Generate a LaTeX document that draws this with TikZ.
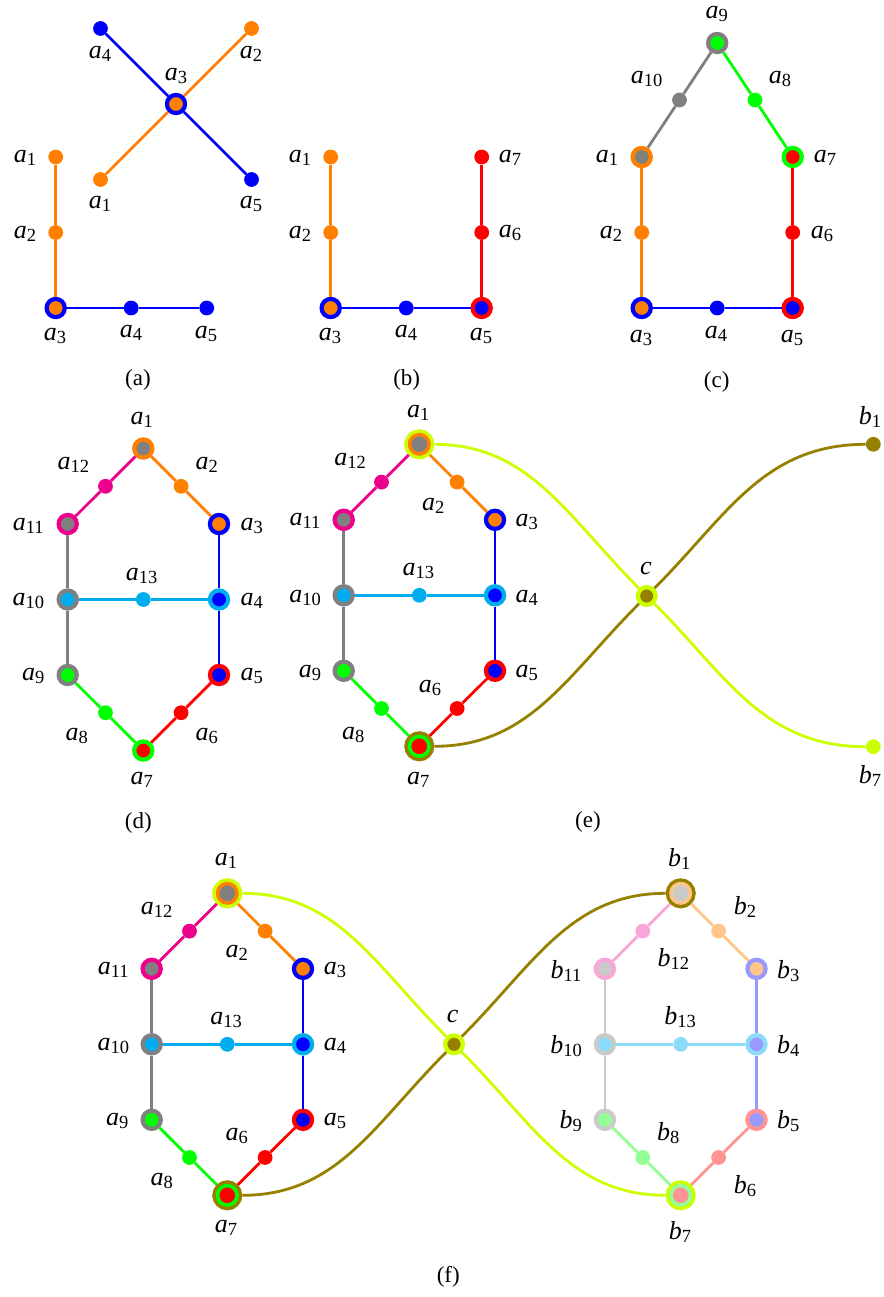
\documentclass[tikz,border=0pt]{standalone}
\usepackage{fontspec}
\setmainfont{Liberation Serif}
\definecolor{cOr}{RGB}{255,128,0}
\definecolor{cBl}{RGB}{0,0,255}
\definecolor{cRd}{RGB}{255,0,0}
\definecolor{cGn}{RGB}{0,255,0}
\definecolor{cGy}{RGB}{128,128,128}
\definecolor{cMg}{RGB}{236,0,140}
\definecolor{cCy}{RGB}{0,174,239}
\definecolor{cLm}{RGB}{204,255,0}
\definecolor{cOl}{RGB}{150,128,0}
\colorlet{pOr}{cOr!45!white}
\colorlet{pBl}{cBl!40!white}
\colorlet{pRd}{cRd!42!white}
\colorlet{pGn}{cGn!42!white}
\colorlet{pGy}{cGy!42!white}
\colorlet{pMg}{cMg!35!white}
\colorlet{pCy}{cCy!45!white}
\newcommand\lb[2]{\textit{#1}\raisebox{-3pt}{\fontsize{18.5}{19}\selectfont #2}}
\tikzset{
  dot/.style={circle,inner sep=0pt,minimum size=14.8pt,fill=#1},
  rng/.style 2 args={circle,inner sep=0pt,minimum size=18.2pt,line width=4.2pt,draw=#1,fill=#2},
  tri/.style n args={3}{circle,inner sep=0pt,minimum size=19.5pt,line width=3.5pt,draw=#2,fill=#3,preaction={draw=#1,line width=10.5pt},outer sep=5.25pt},
  cnode/.style 2 args={circle,inner sep=0pt,minimum size=17.7pt,line width=4.3pt,draw=#1,fill=#2},
  ed/.style={line width=2.8pt,draw=#1},
  lab/.style={inner sep=0pt,anchor=base,yshift=-5.8pt,font=\fontsize{26}{28}\selectfont},
  blab/.style={inner sep=0pt,anchor=base,yshift=-8pt,font=\fontsize{26}{28}\selectfont},
  capt/.style={inner sep=0pt,font=\fontsize{23}{26}\selectfont}
}
\begin{document}
\begin{tikzpicture}[x=1pt,y=-1pt]
\useasboundingbox (0,0) rectangle (883,1297);
% ---------------- (a) cross
\node[dot=cBl] (xa4) at (100.5,28.5) {};
\node[dot=cOr] (xa2) at (251.5,28.5) {};
\node[rng={cBl}{cOr}] (xa3) at (176,104) {};
\node[dot=cOr] (xa1) at (100.5,179.5) {};
\node[dot=cBl] (xa5) at (251.5,179.5) {};
\draw[ed=cBl] (xa4) -- (xa3) -- (xa5);
\draw[ed=cOr] (xa1) -- (xa3) -- (xa2);
\node[lab] (lxa4) at (100,53) {\lb{a}{4}};
\node[lab] (lxa2) at (251,53) {\lb{a}{2}};
\node[lab] (lxa3) at (176,75) {\lb{a}{3}};
\node[lab] (lxa1) at (100,203) {\lb{a}{1}};
\node[lab] (lxa5) at (251,203) {\lb{a}{5}};
% (a) L
\node[dot=cOr] (la1) at (55.7,157) {};
\node[dot=cOr] (la2) at (55.7,232.5) {};
\node[rng={cBl}{cOr}] (la3) at (55.7,308) {};
\node[dot=cBl] (la4) at (131.2,308) {};
\node[dot=cBl] (la5) at (206.7,308) {};
\draw[ed=cOr] (la1) -- (la2) -- (la3);
\draw[ed=cBl] (la3) -- (la4) -- (la5);
\node[lab] (lla1) at (25,157) {\lb{a}{1}};
\node[lab] (lla2) at (25,233) {\lb{a}{2}};
\node[lab] (lla3) at (55,335) {\lb{a}{3}};
\node[lab] (lla4) at (131,332) {\lb{a}{4}};
\node[lab] (lla5) at (206,333) {\lb{a}{5}};
\node[capt] (capa) at (138,380) {(a)};
% ---------------- (b)
\node[dot=cOr] (ba1) at (330.7,157) {};
\node[dot=cOr] (ba2) at (330.7,232.5) {};
\node[rng={cBl}{cOr}] (ba3) at (330.7,308) {};
\node[dot=cBl] (ba4) at (406.2,308) {};
\node[rng={cRd}{cBl}] (ba5) at (481.7,308) {};
\node[dot=cRd] (ba6) at (481.7,232.5) {};
\node[dot=cRd] (ba7) at (481.7,157) {};
\draw[ed=cOr] (ba1) -- (ba2) -- (ba3);
\draw[ed=cBl] (ba3) -- (ba4) -- (ba5);
\draw[ed=cRd] (ba5) -- (ba6) -- (ba7);
\node[lab] (lba1) at (300,157) {\lb{a}{1}};
\node[lab] (lba2) at (300,233) {\lb{a}{2}};
\node[lab] (lba3) at (330,335) {\lb{a}{3}};
\node[lab] (lba4) at (406,332) {\lb{a}{4}};
\node[lab] (lba5) at (481,335) {\lb{a}{5}};
\node[lab] (lba6) at (510,232) {\lb{a}{6}};
\node[lab] (lba7) at (510,157) {\lb{a}{7}};
\node[capt] (capb) at (406.7,380) {(b)};
% ---------------- (c)
\node[rng={cOr}{cGy}] (ca1) at (641.7,157) {};
\node[dot=cOr] (ca2) at (641.7,232.5) {};
\node[rng={cBl}{cOr}] (ca3) at (641.7,308) {};
\node[dot=cBl] (ca4) at (717.2,308) {};
\node[rng={cRd}{cBl}] (ca5) at (792.7,308) {};
\node[dot=cRd] (ca6) at (792.7,232.5) {};
\node[rng={cGn}{cRd}] (ca7) at (792.7,157) {};
\node[dot=cGn] (ca8) at (755,100) {};
\node[rng={cGy}{cGn}] (ca9) at (717.2,43) {};
\node[dot=cGy] (ca10) at (679.5,100) {};
\draw[ed=cOr] (ca1) -- (ca2) -- (ca3);
\draw[ed=cBl] (ca3) -- (ca4) -- (ca5);
\draw[ed=cRd] (ca5) -- (ca6) -- (ca7);
\draw[ed=cGn] (ca7) -- (ca8) -- (ca9);
\draw[ed=cGy] (ca9) -- (ca10) -- (ca1);
\node[lab] (lca9) at (716.7,13) {\lb{a}{9}};
\node[lab] (lca10) at (646.7,78) {\lb{a}{10}};
\node[lab] (lca8) at (780,78) {\lb{a}{8}};
\node[lab] (lca1) at (607,157) {\lb{a}{1}};
\node[lab] (lca7) at (825,157) {\lb{a}{7}};
\node[lab] (lca2) at (611,233) {\lb{a}{2}};
\node[lab] (lca6) at (822,233) {\lb{a}{6}};
\node[lab] (lca3) at (641,337) {\lb{a}{3}};
\node[lab] (lca4) at (716,333) {\lb{a}{4}};
\node[lab] (lca5) at (792,337) {\lb{a}{5}};
\node[capt] (capc) at (716.7,381.7) {(c)};
% ---------------- (d)
\node[rng={cOr}{cGy}] (da1) at (143.3,448.5) {};
\node[dot=cOr] (da2) at (181.1,486.3) {};
\node[rng={cBl}{cOr}] (da3) at (219,524) {};
\node[rng={cCy}{cBl}] (da4) at (219,599.5) {};
\node[rng={cRd}{cBl}] (da5) at (219,675) {};
\node[dot=cRd] (da6) at (181.1,712.7) {};
\node[rng={cGn}{cRd}] (da7) at (143.3,750.5) {};
\node[dot=cGn] (da8) at (105.5,712.7) {};
\node[rng={cGy}{cGn}] (da9) at (67.7,675) {};
\node[rng={cGy}{cCy}] (da10) at (67.7,599.5) {};
\node[rng={cMg}{cGy}] (da11) at (67.7,524) {};
\node[dot=cMg] (da12) at (105.5,486.3) {};
\node[dot=cCy] (da13) at (143.3,599.5) {};
\draw[ed=cOr] (da1) -- (da2) -- (da3);
\draw[ed=cBl] (da3) -- (da4) -- (da5);
\draw[ed=cRd] (da5) -- (da6) -- (da7);
\draw[ed=cGn] (da7) -- (da8) -- (da9);
\draw[ed=cGy] (da9) -- (da10) -- (da11);
\draw[ed=cMg] (da11) -- (da12) -- (da1);
\draw[ed=cCy] (da10) -- (da13) -- (da4);
\node[lab] (lda1) at (141.7,418.3) {\lb{a}{1}};
\node[lab] (lda12) at (73.3,463.3) {\lb{a}{12}};
\node[lab] (lda2) at (206.7,463.3) {\lb{a}{2}};
\node[lab] (lda11) at (28.3,525) {\lb{a}{11}};
\node[lab] (lda3) at (251.7,525) {\lb{a}{3}};
\node[lab] (lda13) at (141.7,575) {\lb{a}{13}};
\node[lab] (lda10) at (28.3,600) {\lb{a}{10}};
\node[lab] (lda4) at (251.7,600) {\lb{a}{4}};
\node[lab] (lda9) at (33.3,675) {\lb{a}{9}};
\node[lab] (lda5) at (251.7,675) {\lb{a}{5}};
\node[lab] (lda8) at (76.7,735) {\lb{a}{8}};
\node[lab] (lda6) at (206.7,735) {\lb{a}{6}};
\node[lab] (lda7) at (141.7,778.3) {\lb{a}{7}};
\node[capt] (capd) at (138.3,823) {(d)};
% ---------------- (e)
\node[tri={cLm}{cOr}{cGy}] (ea1) at (419.3,444.3) {};
\node[dot=cOr] (ea2) at (457.1,482.1) {};
\node[rng={cBl}{cOr}] (ea3) at (495,519.8) {};
\node[rng={cCy}{cBl}] (ea4) at (495,595.3) {};
\node[rng={cRd}{cBl}] (ea5) at (495,670.8) {};
\node[dot=cRd] (ea6) at (457.1,708.5) {};
\node[tri={cOl}{cGn}{cRd}] (ea7) at (419.3,746.3) {};
\node[dot=cGn] (ea8) at (381.5,708.5) {};
\node[rng={cGy}{cGn}] (ea9) at (343.7,670.8) {};
\node[rng={cGy}{cCy}] (ea10) at (343.7,595.3) {};
\node[rng={cMg}{cGy}] (ea11) at (343.7,519.8) {};
\node[dot=cMg] (ea12) at (381.5,482.1) {};
\node[dot=cCy] (ea13) at (419.3,595.3) {};
\node[cnode={cLm}{cOl}] (ec) at (646.7,596) {};
\node[dot=cOl] (eb1) at (873.3,444.3) {};
\node[dot=cLm] (eb7) at (873.3,746.7) {};
\draw[ed=cOr] (ea1) -- (ea2) -- (ea3);
\draw[ed=cBl] (ea3) -- (ea4) -- (ea5);
\draw[ed=cRd] (ea5) -- (ea6) -- (ea7);
\draw[ed=cGn] (ea7) -- (ea8) -- (ea9);
\draw[ed=cGy] (ea9) -- (ea10) -- (ea11);
\draw[ed=cMg] (ea11) -- (ea12) -- (ea1);
\draw[ed=cCy] (ea10) -- (ea13) -- (ea4);
\draw[ed=cLm] (ea1) .. controls +(110,0) and +(-80,-80) .. (ec)
  .. controls +(80,80) and +(-110,0) .. (eb7);
\draw[ed=cOl] (ea7) .. controls +(110,0) and +(-80,80) .. (ec)
  .. controls +(80,-80) and +(-110,0) .. (eb1);
\node[lab] (lea1) at (418.3,411.7) {\lb{a}{1}};
\node[lab] (lea12) at (350,460) {\lb{a}{12}};
\node[lab] (lea2) at (433.3,505) {\lb{a}{2}};
\node[lab] (lea11) at (305,520) {\lb{a}{11}};
\node[lab] (lea3) at (526.7,520.7) {\lb{a}{3}};
\node[lab] (lea13) at (418.3,570) {\lb{a}{13}};
\node[lab] (lea10) at (305,596.7) {\lb{a}{10}};
\node[lab] (lea4) at (526.7,596.7) {\lb{a}{4}};
\node[lab] (lea9) at (310,671.7) {\lb{a}{9}};
\node[lab] (lea5) at (526.7,671.7) {\lb{a}{5}};
\node[lab] (lea6) at (430,686.7) {\lb{a}{6}};
\node[lab] (lea8) at (353.3,733.3) {\lb{a}{8}};
\node[lab] (lea7) at (418.3,778.3) {\lb{a}{7}};
\node[lab] (lec) at (646,568.3) {\textit{c}};
\node[blab] (leb1) at (870,416.7) {\lb{b}{1}};
\node[blab] (leb7) at (870,775) {\lb{b}{7}};
\node[capt] (cape) at (588,822) {(e)};
% ---------------- (f) left
\node[tri={cLm}{cOr}{cGy}] (fa1) at (227.3,893.3) {};
\node[dot=cOr] (fa2) at (265.1,931.1) {};
\node[rng={cBl}{cOr}] (fa3) at (303,968.8) {};
\node[rng={cCy}{cBl}] (fa4) at (303,1044.3) {};
\node[rng={cRd}{cBl}] (fa5) at (303,1119.8) {};
\node[dot=cRd] (fa6) at (265.1,1157.5) {};
\node[tri={cOl}{cGn}{cRd}] (fa7) at (227.3,1195.3) {};
\node[dot=cGn] (fa8) at (189.5,1157.5) {};
\node[rng={cGy}{cGn}] (fa9) at (151.7,1119.8) {};
\node[rng={cGy}{cCy}] (fa10) at (151.7,1044.3) {};
\node[rng={cMg}{cGy}] (fa11) at (151.7,968.8) {};
\node[dot=cMg] (fa12) at (189.5,931.1) {};
\node[dot=cCy] (fa13) at (227.3,1044.3) {};
\node[cnode={cLm}{cOl}] (fc) at (454,1044.3) {};
% (f) right
\node[tri={cOl}{pOr}{pGy}] (fb1) at (680.7,893.3) {};
\node[dot=pOr] (fb2) at (718.6,931.1) {};
\node[rng={pBl}{pOr}] (fb3) at (756.5,968.8) {};
\node[rng={pCy}{pBl}] (fb4) at (756.5,1044.3) {};
\node[rng={pRd}{pBl}] (fb5) at (756.5,1119.8) {};
\node[dot=pRd] (fb6) at (718.6,1157.5) {};
\node[tri={cLm}{pGn}{pRd}] (fb7) at (680.7,1195.3) {};
\node[dot=pGn] (fb8) at (642.8,1157.5) {};
\node[rng={pGy}{pGn}] (fb9) at (604.9,1119.8) {};
\node[rng={pGy}{pCy}] (fb10) at (604.9,1044.3) {};
\node[rng={pMg}{pGy}] (fb11) at (604.9,968.8) {};
\node[dot=pMg] (fb12) at (642.8,931.1) {};
\node[dot=pCy] (fb13) at (680.7,1044.3) {};
\draw[ed=cOr] (fa1) -- (fa2) -- (fa3);
\draw[ed=cBl] (fa3) -- (fa4) -- (fa5);
\draw[ed=cRd] (fa5) -- (fa6) -- (fa7);
\draw[ed=cGn] (fa7) -- (fa8) -- (fa9);
\draw[ed=cGy] (fa9) -- (fa10) -- (fa11);
\draw[ed=cMg] (fa11) -- (fa12) -- (fa1);
\draw[ed=cCy] (fa10) -- (fa13) -- (fa4);
\draw[ed=pOr] (fb1) -- (fb2) -- (fb3);
\draw[ed=pBl] (fb3) -- (fb4) -- (fb5);
\draw[ed=pRd] (fb5) -- (fb6) -- (fb7);
\draw[ed=pGn] (fb7) -- (fb8) -- (fb9);
\draw[ed=pGy] (fb9) -- (fb10) -- (fb11);
\draw[ed=pMg] (fb11) -- (fb12) -- (fb1);
\draw[ed=pCy] (fb10) -- (fb13) -- (fb4);
\draw[ed=cLm] (fa1) .. controls +(110,0) and +(-80,-80) .. (fc)
  .. controls +(80,80) and +(-110,0) .. (fb7);
\draw[ed=cOl] (fa7) .. controls +(110,0) and +(-80,80) .. (fc)
  .. controls +(80,-80) and +(-110,0) .. (fb1);
\node[lab] (lfa1) at (226,860) {\lb{a}{1}};
\node[lab] (lfa12) at (156.7,908.3) {\lb{a}{12}};
\node[lab] (lfa2) at (236.7,951.7) {\lb{a}{2}};
\node[lab] (lfa11) at (113.3,968.3) {\lb{a}{11}};
\node[lab] (lfa3) at (335,968.3) {\lb{a}{3}};
\node[lab] (lfa13) at (226,1018.3) {\lb{a}{13}};
\node[lab] (lfa10) at (113.3,1044.3) {\lb{a}{10}};
\node[lab] (lfa4) at (335,1044.3) {\lb{a}{4}};
\node[lab] (lfa9) at (117.3,1119.3) {\lb{a}{9}};
\node[lab] (lfa5) at (335,1119.3) {\lb{a}{5}};
\node[lab] (lfa6) at (236.7,1134.3) {\lb{a}{6}};
\node[lab] (lfa8) at (161.7,1180) {\lb{a}{8}};
\node[lab] (lfa7) at (226,1226.7) {\lb{a}{7}};
\node[lab] (lfc) at (452.7,1016.7) {\textit{c}};
\node[blab] (lfb1) at (679.3,858.3) {\lb{b}{1}};
\node[blab] (lfb2) at (745,906.7) {\lb{b}{2}};
\node[blab] (lfb12) at (673.3,958.3) {\lb{b}{12}};
\node[blab] (lfb11) at (566,970) {\lb{b}{11}};
\node[blab] (lfb3) at (788.3,970) {\lb{b}{3}};
\node[blab] (lfb13) at (680,1016.7) {\lb{b}{13}};
\node[blab] (lfb10) at (566,1045) {\lb{b}{10}};
\node[blab] (lfb4) at (788.3,1045) {\lb{b}{4}};
\node[blab] (lfb9) at (570.7,1120) {\lb{b}{9}};
\node[blab] (lfb5) at (788.3,1120) {\lb{b}{5}};
\node[blab] (lfb8) at (668.3,1132.7) {\lb{b}{8}};
\node[blab] (lfb6) at (745,1185) {\lb{b}{6}};
\node[blab] (lfb7) at (680,1231.7) {\lb{b}{7}};
\node[capt] (capf) at (448.3,1276.7) {(f)};
\end{tikzpicture}
\end{document}
